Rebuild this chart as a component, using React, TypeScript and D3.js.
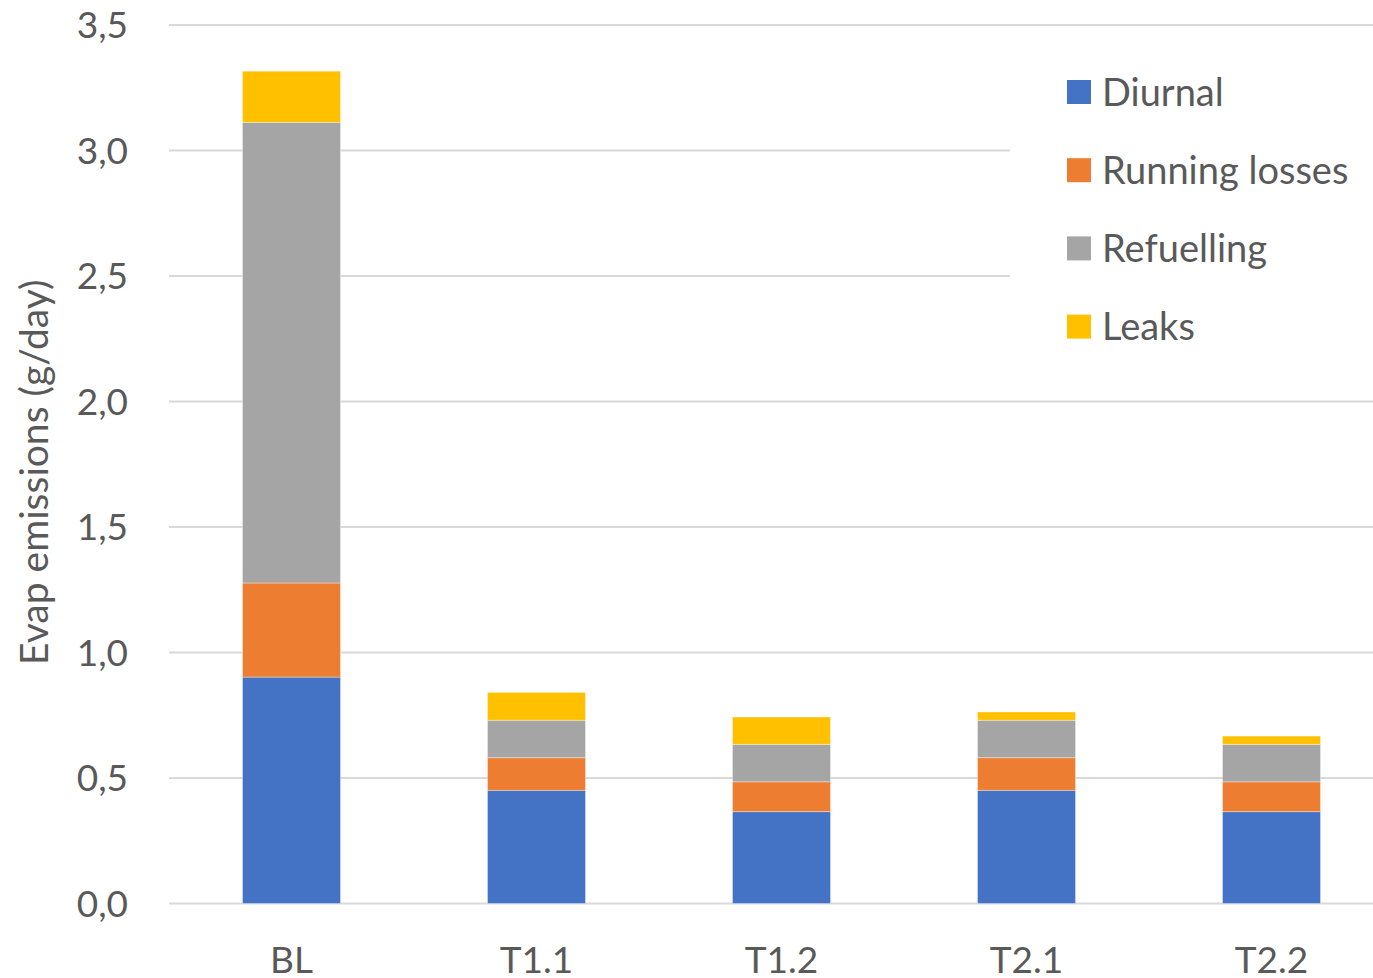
import React from "react";
import * as d3 from "d3";

// Scenario categories and stacked emission components (g/day)
const categories = ["BL", "T1.1", "T1.2", "T2.1", "T2.2"];
const seriesNames = ["Diurnal", "Running losses", "Refuelling", "Leaks"];
const diurnal = [0.902, 0.451, 0.366, 0.451, 0.366];
const runningLosses = [0.375, 0.13, 0.119, 0.13, 0.119];
const refuelling = [1.835, 0.149, 0.149, 0.149, 0.149];
const leaks = [0.204, 0.111, 0.109, 0.033, 0.033];
const yTicks = [0, 0.5, 1.0, 1.5, 2.0, 2.5, 3.0, 3.5];
const colors = ["#4472C4", "#ED7D31", "#A5A5A5", "#FFC000"];

const W = 1373;
const H = 978;
const FONT = "Lato, 'Open Sans', sans-serif";
const TEXT = "#595959";

export default function App() {
  const x = d3
    .scaleBand<string>()
    .domain(categories)
    .range([169, 1394])
    .paddingInner(0.6)
    .paddingOuter(0.3);
  const y = d3.scaleLinear().domain([0, 3.5]).range([903.5, 25]);

  const rows = categories.map((c, i) => ({
    cat: c,
    Diurnal: diurnal[i],
    "Running losses": runningLosses[i],
    Refuelling: refuelling[i],
    Leaks: leaks[i],
  }));
  const stacked = d3.stack<any>().keys(seriesNames)(rows);

  const fmt = (v: number) => v.toFixed(1).replace(".", ",");

  return (
    <svg
      width={W}
      height={H}
      style={{ position: "absolute", left: 0, top: 0, display: "block" }}
      fontFamily={FONT}
    >
      <rect x={0} y={0} width={W} height={H} fill="#ffffff" />
      {/* gridlines */}
      {yTicks.map((t) => (
        <line
          key={t}
          x1={169}
          x2={1394}
          y1={y(t)}
          y2={y(t)}
          stroke="#d9d9d9"
          strokeWidth={2}
        />
      ))}
      {/* legend background hides gridlines behind it */}
      <rect x={1010} y={40} width={363} height={345} fill="#ffffff" />
      {/* stacked bars */}
      {stacked.map((layer, si) => (
        <g key={layer.key} fill={colors[si]}>
          {layer.map((d, i) => (
            <rect
              key={i}
              x={x(categories[i])}
              width={x.bandwidth()}
              y={y(d[1])}
              height={y(d[0]) - y(d[1])}
              stroke="#ffffff"
              strokeOpacity={0.35}
              strokeWidth={1}
            />
          ))}
        </g>
      ))}
      {/* y tick labels */}
      {yTicks.map((t) => (
        <text
          key={t}
          x={128}
          y={y(t)}
          dy="0.36em"
          textAnchor="end"
          fontSize={37}
          fill={TEXT}
        >
          {fmt(t)}
        </text>
      ))}
      {/* x tick labels */}
      {categories.map((c) => (
        <text
          key={c}
          x={(x(c) as number) + x.bandwidth() / 2}
          y={973}
          textAnchor="middle"
          fontSize={37}
          fill={TEXT}
        >
          {c}
        </text>
      ))}
      {/* y axis title */}
      <text
        transform={`translate(48, ${(y(0) + y(3.5)) / 2 + 8}) rotate(-90)`}
        textAnchor="middle"
        fontSize={39}
        fill={TEXT}
      >
        Evap emissions (g/day)
      </text>
      {/* legend */}
      {seriesNames.map((s, i) => (
        <g key={s} transform={`translate(1067, ${92 + i * 78.2})`}>
          <rect x={0} y={-12} width={24} height={24} fill={colors[i]} />
          <text x={35} y={0} dy="0.36em" fontSize={38} fill={TEXT}>
            {s}
          </text>
        </g>
      ))}
    </svg>
  );
}
